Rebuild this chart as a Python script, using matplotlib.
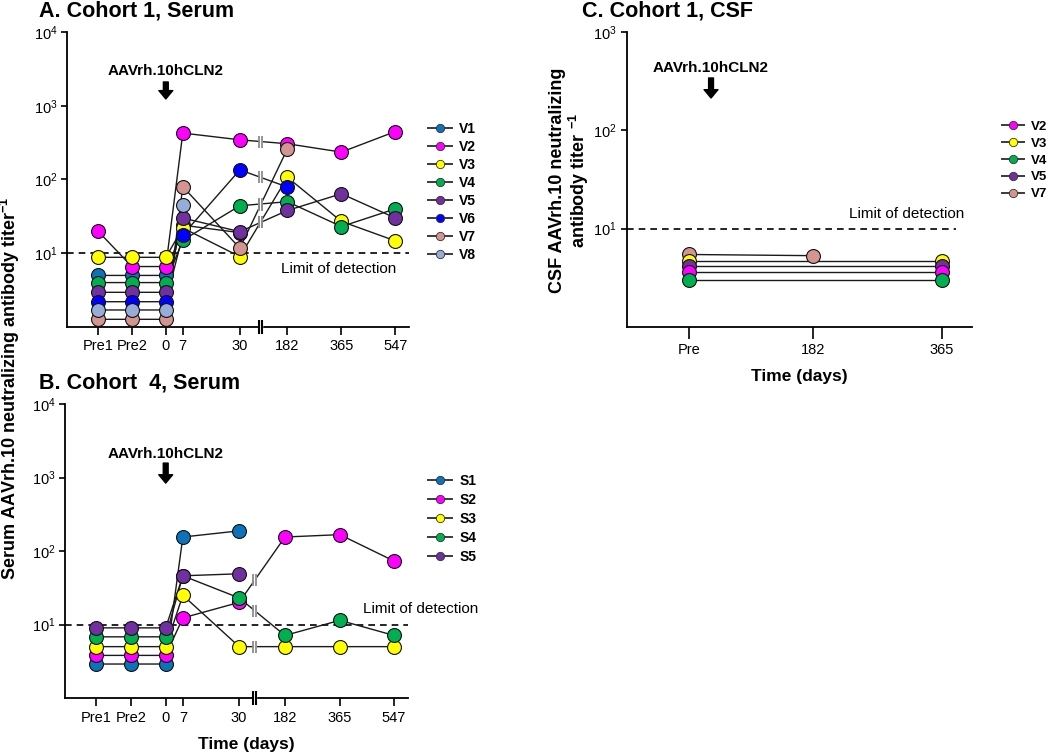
import numpy as np
import matplotlib
matplotlib.use("Agg")
import matplotlib.pyplot as plt
from matplotlib.lines import Line2D
from matplotlib.ticker import NullLocator

plt.rcParams['font.family'] = ['Liberation Sans', 'DejaVu Sans']
plt.rcParams['mathtext.fontset'] = 'custom'
plt.rcParams['mathtext.rm'] = 'Liberation Sans'
plt.rcParams['mathtext.bf'] = 'Liberation Sans:bold'
plt.rcParams['mathtext.default'] = 'regular'

nan = np.nan

# ---------------- data (titer^-1) ----------------
serum_days = ["Pre1", "Pre2", "0", "7", "30", "182", "365", "547"]

cohort1_ids = ["V1", "V2", "V3", "V4", "V5", "V6", "V7", "V8"]
V1 = [5.0, 5.0, 5.0, 24, 19, nan, nan, nan]
V2 = [20, 6.6, 6.6, 426, 345, 305, 235, 447]
V3 = [8.8, 8.8, 8.8, 22, 9.0, 107, 27, 14.7]
V4 = [4.0, 4.0, 4.0, 15, 44, 50, 23, 40]
V5 = [2.95, 2.95, 2.95, 30, 19.6, 38, 64, 30]
V6 = [2.2, 2.2, 2.2, 17.7, 135, 79, nan, nan]
V7 = [1.27, 1.27, 1.27, 80, 11.7, 260, nan, nan]
V8 = [1.7, 1.7, 1.7, 45, nan, nan, nan, nan]

cohort4_ids = ["S1", "S2", "S3", "S4", "S5"]
S1 = [2.9, 2.9, 2.9, 155, 188, nan, nan, nan]
S2 = [3.8, 3.8, 3.8, 12.3, 20, 155, 167, 73]
S3 = [5.0, 5.0, 5.0, 25, 5.0, 5.0, 5.0, 5.0]
S4 = [6.8, 6.8, 6.8, 46, 23, 7.1, 11.4, 7.1]
S5 = [9.0, 9.0, 9.0, 46, 49, nan, nan, nan]

csf_days = ["Pre", "182", "365"]
csf_ids = ["V2", "V3", "V4", "V5", "V7"]
csf_V2 = [3.6, nan, 3.6]
csf_V3 = [4.66, nan, 4.66]
csf_V4 = [3.0, nan, 3.0]
csf_V5 = [4.14, nan, 4.14]
csf_V7 = [5.45, 5.3, nan]

limit_of_detection = 10

# ---------------- styles ----------------
colors = {
    "1": "#0E72BA",  # steel blue
    "2": "#FF00FF",
    "3": "#FFFF00",
    "4": "#00B050",
    "5": "#7030A0",
    "6": "#0000FF",
    "7": "#D4948F",
    "8": "#97ACD6",
}

cohort1 = dict(zip(cohort1_ids, [V1, V2, V3, V4, V5, V6, V7, V8]))
cohort4 = dict(zip(cohort4_ids, [S1, S2, S3, S4, S5]))
csf = dict(zip(csf_ids, [csf_V2, csf_V3, csf_V4, csf_V5, csf_V7]))

# uneven category spacing (layout of the original axis)
posA = [0, 1, 2.0, 2.5, 4.18, 5.58, 7.17, 8.76]
brkA = 4.79
posB = [0, 1, 2.0, 2.49, 4.1, 5.41, 6.98, 8.53]
brkB = 4.55
posC = [0, 0.984, 2.0]

fig = plt.figure(figsize=(10.5, 7.56), dpi=100)
axA = fig.add_axes([0.0638, 0.5675, 0.3257, 0.3902])
axB = fig.add_axes([0.0619, 0.0767, 0.3267, 0.3889])
axC = fig.add_axes([0.5969, 0.5678, 0.3286, 0.3894])


def style_axis(ax, pos, labels, xlim, ylim, yticks, xtick_len=6):
    ax.set_yscale('log')
    ax.set_xlim(*xlim)
    ax.set_ylim(*ylim)
    for s in ['top', 'right']:
        ax.spines[s].set_visible(False)
    for s in ['left', 'bottom']:
        ax.spines[s].set_linewidth(1.3)
    ax.set_xticks(pos)
    ax.set_xticklabels(labels, fontsize=10.5)
    ax.set_yticks(yticks)
    ax.set_yticklabels([r'$10^{%d}$' % int(np.log10(t)) for t in yticks], fontsize=10.5)
    ax.yaxis.set_minor_locator(NullLocator())
    ax.tick_params(axis='x', length=xtick_len, width=1.2, pad=3)
    ax.tick_params(axis='y', length=4, width=1.2, pad=3)


def line_breaks(ax, x, y, brk, gap):
    for i in range(len(x) - 1):
        if x[i] < brk < x[i + 1]:
            t = (brk - x[i]) / (x[i + 1] - x[i])
            ly = np.log10(y[i]) + t * (np.log10(y[i + 1]) - np.log10(y[i]))
            yb = 10 ** ly
            ax.plot([brk], [yb], ls='none', marker='|', ms=9, mew=2.2,
                    color='white', zorder=2.4)
            ax.plot([brk - gap, brk + gap], [yb, yb], ls='none', marker='|',
                    ms=8, mew=1.3, color='#8c8c8c', zorder=2.5)


def axis_break(ax, brk, gap):
    tr = ax.get_xaxis_transform()
    ax.plot([brk], [0], transform=tr, ls='none', marker='|', ms=10, mew=2.5,
            color='white', clip_on=False, zorder=5)
    ax.plot([brk - gap, brk + gap], [0, 0], transform=tr, ls='none',
            marker='|', ms=10, mew=1.5, color='black', clip_on=False, zorder=6)


def draw_panel(ax, pos, data, order, brk=None, gap=0.04):
    pos = np.asarray(pos, float)
    for name in order:
        vals = np.asarray(data[name], float)
        ok = ~np.isnan(vals)
        ax.plot(pos[ok], vals[ok], color='#1a1a1a', lw=1.0, zorder=2)
        if brk is not None:
            line_breaks(ax, pos[ok], vals[ok], brk, gap)
    for name in order:
        vals = np.asarray(data[name], float)
        ok = ~np.isnan(vals)
        ax.plot(pos[ok], vals[ok], ls='none', marker='o', ms=10,
                mfc=colors[name[-1]], mec='#111111', mew=0.8, zorder=3)


def arrow(ax, x, ytext, ytail, ytip):
    tr = ax.get_xaxis_transform()
    ax.text(x, ytext, 'AAVrh.10hCLN2', transform=tr, ha='center', va='center',
            fontsize=11, fontweight='bold')
    ax.annotate('', xy=(x, ytip), xytext=(x, ytail),
                xycoords=tr, textcoords=tr,
                arrowprops=dict(facecolor='black', edgecolor='black',
                                width=3.5, headwidth=10, headlength=6, shrink=0))


def legend(ax, names, anchor, fontsize, spacing):
    handles = [Line2D([], [], color='#3a3a3a', lw=1.4, marker='o', ms=6,
                      mfc=colors[n[-1]], mec='#333333', mew=0.6) for n in names]
    ax.legend(handles, names, loc='upper left', bbox_to_anchor=anchor,
              bbox_transform=fig.transFigure, frameon=False, borderpad=0,
              borderaxespad=0, handlelength=1.7, handletextpad=0.55,
              labelspacing=spacing, prop=dict(weight='bold', size=fontsize))


# ---------------- A. Cohort 1, Serum ----------------
style_axis(axA, posA, serum_days, (-0.91, 9.16), (1, 1e4), [10, 100, 1000, 10000])
draw_panel(axA, posA, cohort1, cohort1_ids, brk=brkA, gap=0.04)
axis_break(axA, brkA, 0.045)
axA.axhline(limit_of_detection, color='black', lw=1.2, ls=(0, (4, 3)), zorder=1)
axA.text(8.79, 6.2, 'Limit of detection', ha='right', va='center', fontsize=11)
arrow(axA, posA[2], 0.869, 0.8305, 0.773)
legend(axA, cohort1_ids, (428 / 1050, 1 - 122 / 756), 10, 0.29)

# ---------------- B. Cohort 4, Serum ----------------
style_axis(axB, posB, serum_days, (-0.88, 8.93), (1, 1e4), [10, 100, 1000, 10000])
draw_panel(axB, posB, cohort4, cohort4_ids, brk=brkB, gap=0.04)
axis_break(axB, brkB, 0.045)
axB.axhline(limit_of_detection, color='black', lw=1.2, ls=(0, (4, 3)), zorder=1)
axB.text(7.64, 16.1, 'Limit of detection', ha='left', va='center', fontsize=11,
         clip_on=False)
arrow(axB, posB[2], 0.830, 0.799, 0.731)
legend(axB, cohort4_ids, (428 / 1050, 1 - 473.6 / 756), 10, 0.36)

# ---------------- C. Cohort 1, CSF ----------------
style_axis(axC, posC, csf_days, (-0.493, 2.237), (1, 1e3), [10, 100, 1000],
           xtick_len=8.5)
draw_panel(axC, posC, csf, ["V7", "V3", "V5", "V2", "V4"])
axC.hlines(limit_of_detection, -0.493, 2.115, color='black', lw=1.2,
           ls=(0, (4, 3)), zorder=1)
axC.text(1.266, 14.2, 'Limit of detection', ha='left', va='center', fontsize=11)
arrow(axC, 0.174, 0.878, 0.845, 0.777)
legend(axC, csf_ids, (1001.7 / 1050, 1 - 120.6 / 756), 9.5, 0.35)

# ---------------- titles and axis labels ----------------
fig.text(39 / 1050, 1 - 16.5 / 756, 'A. Cohort 1, Serum', fontsize=15.5,
         fontweight='bold', va='baseline')
fig.text(39 / 1050, 1 - 388 / 756, 'B. Cohort  4, Serum', fontsize=15.5,
         fontweight='bold', va='baseline')
fig.text(582 / 1050, 1 - 16 / 756, 'C. Cohort 1, CSF', fontsize=15.5,
         fontweight='bold', va='baseline')

fig.text(0.0095, 1 - 388.5 / 756,
         r'Serum AAVrh.10 neutralizing antibody titer$^{-1}$',
         rotation=90, ha='center', va='center', fontsize=13, fontweight='bold')
fig.text(570 / 1050, 1 - 180 / 756,
         'CSF AAVrh.10 neutralizing\nantibody titer $^{-1}$',
         rotation=90, ha='center', va='center', fontsize=13, fontweight='bold',
         multialignment='center', linespacing=1.1)

fig.text(246.5 / 1050, 1 - 745 / 756, 'Time (days)', ha='center', va='center',
         fontsize=12.5, fontweight='bold')
fig.text(799 / 1050, 1 - 377 / 756, 'Time (days)', ha='center', va='center',
         fontsize=12.5, fontweight='bold')

fig.savefig('out.png', dpi=100)
